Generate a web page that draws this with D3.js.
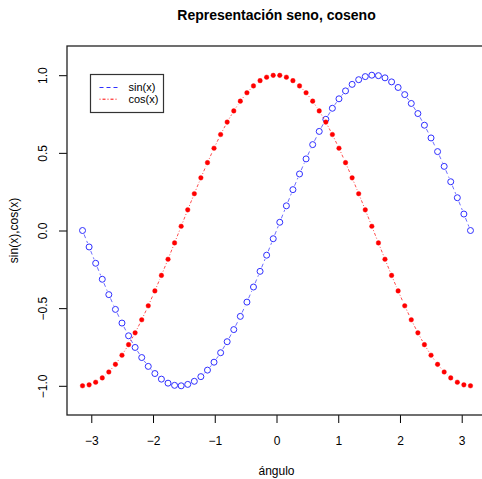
<!DOCTYPE html>
<meta charset="utf-8">
<style>
  body{ margin:0; background:#fff; }
  text{ font-family: "Liberation Sans", Arial, Helvetica, sans-serif; fill:#000; }
  .title{ font-size:14px; font-weight:bold; }
  .lab{ font-size:12px; }
  .tick text{ font-size:12px; }
  .tick line{ stroke:#000; }
  .leg{ font-size:11px; }
</style>
<body>
<div id="container"></div>
<script src="https://d3js.org/d3.v7.min.js"></script>
<script>

// x = seq(-pi, pi, length = 60)
var angulo = [-3.142,-3.035,-2.929,-2.822,-2.716,-2.609,-2.503,-2.396,-2.290,-2.183,
  -2.077,-1.970,-1.864,-1.757,-1.651,-1.544,-1.438,-1.331,-1.225,-1.118,
  -1.012,-0.905,-0.799,-0.692,-0.586,-0.479,-0.373,-0.266,-0.160,-0.053,
  0.053,0.160,0.266,0.373,0.479,0.586,0.692,0.799,0.905,1.012,
  1.118,1.225,1.331,1.438,1.544,1.651,1.757,1.864,1.970,2.077,
  2.183,2.290,2.396,2.503,2.609,2.716,2.822,2.929,3.035,3.142];

var seno = [0,-0.106,-0.211,-0.314,-0.413,-0.508,-0.596,-0.678,-0.753,-0.818,
  -0.875,-0.921,-0.957,-0.983,-0.997,-1.000,-0.991,-0.971,-0.941,-0.899,
  -0.848,-0.787,-0.716,-0.638,-0.553,-0.461,-0.364,-0.263,-0.159,-0.053,
  0.053,0.159,0.263,0.364,0.461,0.553,0.638,0.716,0.787,0.848,
  0.899,0.941,0.971,0.991,1.000,0.997,0.983,0.957,0.921,0.875,
  0.818,0.753,0.678,0.596,0.508,0.413,0.314,0.211,0.106,0];

var coseno = [-1,-0.994,-0.977,-0.949,-0.911,-0.862,-0.803,-0.735,-0.659,-0.575,
  -0.485,-0.389,-0.289,-0.185,-0.080,0.027,0.133,0.237,0.339,0.437,
  0.530,0.618,0.698,0.770,0.833,0.887,0.931,0.965,0.987,0.999,
  0.999,0.987,0.965,0.931,0.887,0.833,0.770,0.698,0.618,0.530,
  0.437,0.339,0.237,0.133,0.027,-0.080,-0.185,-0.289,-0.389,-0.485,
  -0.575,-0.659,-0.735,-0.803,-0.862,-0.911,-0.949,-0.977,-0.994,-1];

var xTicks = [-3,-2,-1,0,1,2,3];
var yTicks = [-1,-0.5,0,0.5,1];
var ylim = [-1.1, 1.1];

var titulo = 'Representación seno, coseno';
var xlab = 'ángulo', ylab = 'sin(x),cos(x)';
var leyenda = ['sin(x)', 'cos(x)'];

var W = 482, H = 479;
// plot region (right edge falls just outside the window, as in the reference)
var pLeft = 67, pTop = 46, pBottom = 415, pRight = 486;

var svg = d3.select('#container').append('svg').attr('width', W).attr('height', H);

// R style 4% extension of the ranges
var xr = d3.extent(angulo), xpad = (xr[1]-xr[0])*0.04;
var x = d3.scaleLinear().domain([xr[0]-xpad, xr[1]+xpad]).range([pLeft, pRight]);
var ypad = (ylim[1]-ylim[0])*0.04;
var y = d3.scaleLinear().domain([ylim[0]-ypad, ylim[1]+ypad]).range([pBottom, pTop]);

// axes
var xAxis = svg.append('g').attr('transform','translate(0,'+pBottom+')')
  .call(d3.axisBottom(x).tickValues(xTicks).tickSize(8).tickPadding(13).tickFormat(d3.format('d')));
xAxis.select('.domain').remove();

var yAxis = svg.append('g').attr('transform','translate('+pLeft+',0)')
  .call(d3.axisLeft(y).tickValues(yTicks).tickSize(8).tickFormat(d3.format('.1f')));
yAxis.select('.domain').remove();
yAxis.selectAll('.tick text')
  .attr('x', null).attr('dy', '0.35em')
  .attr('text-anchor', 'middle')
  .attr('transform', 'translate(-24,0) rotate(-90)');

// box
svg.append('rect').attr('x', pLeft).attr('y', pTop)
  .attr('width', pRight-pLeft).attr('height', pBottom-pTop)
  .attr('fill', 'none').attr('stroke', '#222').attr('stroke-width', 1.3);

// titles
svg.append('text').attr('class','title').attr('x', (pLeft+pRight)/2).attr('y', 20)
  .attr('text-anchor','middle').text(titulo);
svg.append('text').attr('class','lab').attr('x', (pLeft+pRight)/2).attr('y', 475)
  .attr('text-anchor','middle').text(xlab);
svg.append('text').attr('class','lab').attr('text-anchor','middle')
  .attr('transform','translate(18,'+((pTop+pBottom)/2)+') rotate(-90)').text(ylab);

// type = "b": segments with a gap around each point
function gapSegments(ys, gap){
  var segs = [];
  for(var i=1;i<angulo.length;i++){
    var x0 = x(angulo[i-1]), y0 = y(ys[i-1]), x1 = x(angulo[i]), y1 = y(ys[i]);
    var d = Math.hypot(x1-x0, y1-y0);
    if(d > 2*gap){
      var ux = (x1-x0)/d, uy = (y1-y0)/d;
      segs.push([x0+ux*gap, y0+uy*gap, x1-ux*gap, y1-uy*gap]);
    }
  }
  return segs;
}

var series = [
  {ys: seno, color:'#2f2fff', dash:'4,3', filled:false},
  {ys: coseno, color:'#ff0000', dash:'1,2,3,2', filled:true}
];

series.forEach(function(s){
  var g = svg.append('g');
  g.selectAll('line').data(gapSegments(s.ys, 4.2)).enter().append('line')
    .attr('x1', function(d){ return d[0]; }).attr('y1', function(d){ return d[1]; })
    .attr('x2', function(d){ return d[2]; }).attr('y2', function(d){ return d[3]; })
    .attr('stroke', s.color).attr('stroke-width', 0.7).attr('stroke-dasharray', s.dash);
  g.selectAll('circle').data(s.ys).enter().append('circle')
    .attr('cx', function(d,i){ return x(angulo[i]); })
    .attr('cy', function(d){ return y(d); })
    .attr('r', s.filled ? 2.3 : 3)
    .attr('fill', s.filled ? s.color : 'none')
    .attr('stroke', s.color)
    .attr('stroke-width', s.filled ? 0.4 : 1);
});

// legend
var leg = svg.append('g');
leg.append('rect').attr('x', 90.5).attr('y', 74.5).attr('width', 73).attr('height', 38)
  .attr('fill', '#fff').attr('stroke', '#333').attr('stroke-width', 1.2);
leyenda.forEach(function(t, i){
  var yy = 87.5 + i*11.7;
  leg.append('line').attr('x1', 99.5).attr('x2', 117.5).attr('y1', yy).attr('y2', yy)
    .attr('stroke', series[i].color).attr('stroke-width', 1).attr('stroke-dasharray', series[i].dash);
  leg.append('text').attr('class','leg').attr('x', 128.5).attr('y', yy).attr('dy','0.35em').text(t);
});

</script>
</body>
